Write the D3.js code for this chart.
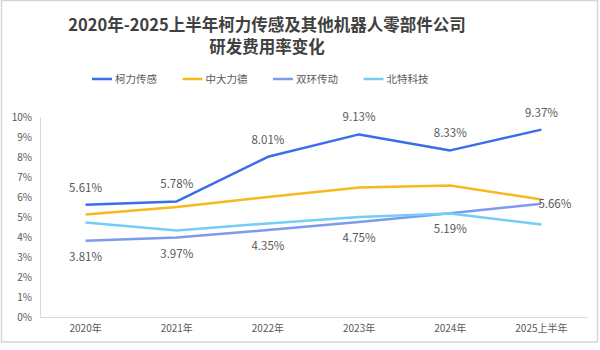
<!DOCTYPE html>
<html>
<head>
<meta charset="utf-8">
<script src="https://cdn.jsdelivr.net/npm/d3@7.9.0/dist/d3.min.js"></script>
<style>
  body { margin: 0; background: #fff; }
  svg text { font-family: "Noto Sans CJK SC", "Noto Sans", sans-serif; }
</style>
</head>
<body>
<div id="chart"></div>
<script>
// Data
const years = ["2020年", "2021年", "2022年", "2023年", "2024年", "2025上半年"];
const keli = [5.61, 5.78, 8.01, 9.13, 8.33, 9.37];        // 柯力传感
const zhongda = [5.12, 5.50, 6.00, 6.47, 6.57, 5.88];     // 中大力德
const shuanghuan = [3.81, 3.97, 4.35, 4.75, 5.19, 5.66];  // 双环传动
const beite = [4.73, 4.32, 4.68, 5.00, 5.17, 4.63];       // 北特科技
const yTicks = [0, 1, 2, 3, 4, 5, 6, 7, 8, 9, 10];

const series = [
    {name: "柯力传感", values: keli, color: "#3a6ee8", label: "above"},
    {name: "中大力德", values: zhongda, color: "#f8b91c", label: null},
    {name: "双环传动", values: shuanghuan, color: "#7d9bec", label: "below"},
    {name: "北特科技", values: beite, color: "#74cdf4", label: null}
];

const W = 600, H = 350;
const margin = {top: 117, right: 13, bottom: 33, left: 40};
const width = W - margin.left - margin.right;
const height = H - margin.top - margin.bottom;

const root = d3.select("#chart").append("svg")
    .attr("width", W)
    .attr("height", H);

// Frame
root.append("rect")
    .attr("x", 1.5).attr("y", 0.5)
    .attr("width", 596).attr("height", 341.5)
    .attr("fill", "none")
    .attr("stroke", "#d6d6d6")
    .attr("stroke-width", 1.5);

// Title
const title = root.append("text")
    .attr("text-anchor", "middle")
    .attr("font-weight", "bold")
    .attr("font-size", "16.5px")
    .attr("fill", "#404040");
title.append("tspan").attr("x", 267).attr("y", 31)
    .text("2020年-2025上半年柯力传感及其他机器人零部件公司");
title.append("tspan").attr("x", 267).attr("y", 53)
    .text("研发费用率变化");

// Legend
const legend = root.append("g").attr("transform", "translate(92,79)");
series.forEach((s, i) => {
    const g = legend.append("g").attr("transform", `translate(${i * 90.5},0)`);
    g.append("line")
        .attr("x1", 0).attr("x2", 20)
        .attr("y1", 0).attr("y2", 0)
        .attr("stroke", s.color)
        .attr("stroke-width", 2.5);
    g.append("text")
        .attr("x", 23).attr("y", 0)
        .attr("dy", "0.35em")
        .attr("font-size", "10.5px")
        .attr("fill", "#595959")
        .text(s.name);
});

const svg = root.append("g")
    .attr("transform", `translate(${margin.left},${margin.top})`);

// Scales
const x = d3.scaleBand()
    .domain(years)
    .range([0, width]);

const y = d3.scaleLinear()
    .domain([0, 10])
    .range([height, 0]);

const cx = d => x(d) + x.bandwidth() / 2;

// Axes
const yAxis = svg.append("g")
    .call(d3.axisLeft(y).tickValues(yTicks).tickFormat(d => d + "%").tickSize(0).tickPadding(8));
yAxis.select(".domain").attr("stroke", "#d9d9d9");
yAxis.selectAll("text").attr("font-size", "10px").attr("fill", "#595959");

const xAxis = svg.append("g")
    .attr("transform", `translate(0,${height})`)
    .call(d3.axisBottom(x).tickSize(0).tickPadding(8));
xAxis.select(".domain").attr("stroke", "#d9d9d9");
xAxis.selectAll("text")
    .attr("font-size", "10px")
    .attr("fill", "#595959")
    .attr("font-family", "'Noto Sans CJK SC', sans-serif");

// Lines
const line = d3.line()
    .x((d, i) => cx(years[i]))
    .y(d => y(d));

series.forEach(s => {
    svg.append("path")
        .datum(s.values)
        .attr("fill", "none")
        .attr("stroke", s.color)
        .attr("stroke-width", 2.5)
        .attr("stroke-linejoin", "round")
        .attr("d", line);
});

// Data labels
series.filter(s => s.label).forEach(s => {
    s.values.forEach((v, i) => {
        const last = i === s.values.length - 1;
        const t = svg.append("text")
            .attr("font-size", "11.5px")
            .attr("fill", "#595959")
            .attr("dy", "0.35em")
            .text(v.toFixed(2) + "%");
        if (s.label === "above") {
            t.attr("x", cx(years[i])).attr("y", y(v) - 17).attr("text-anchor", "middle");
        } else if (last) {
            t.attr("x", cx(years[i]) - 3).attr("y", y(v)).attr("text-anchor", "start");
        } else {
            t.attr("x", cx(years[i])).attr("y", y(v) + 16).attr("text-anchor", "middle");
        }
    });
});
</script>
</body>
</html>
